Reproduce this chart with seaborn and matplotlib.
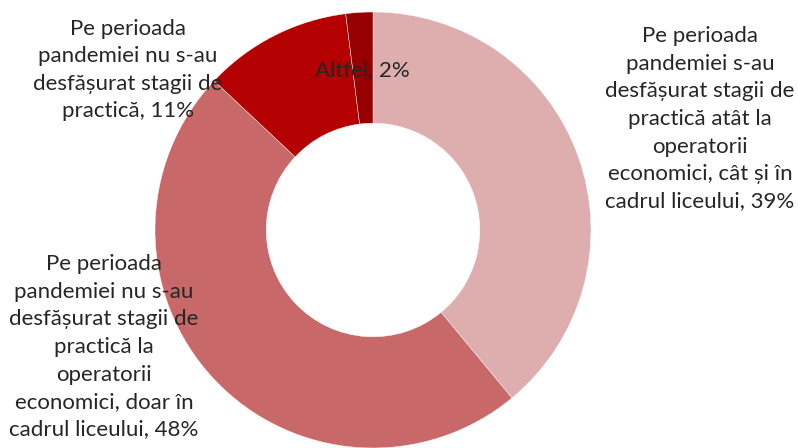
import matplotlib
matplotlib.use("Agg")
import matplotlib.pyplot as plt
import seaborn as sns

# slices, clockwise from 12 o'clock
labels = [
    "Pe perioada\npandemiei s-au\ndesfășurat stagii de\npractică atât la\noperatorii\neconomici, cât și în\ncadrul liceului, 39%",
    "Pe perioada\npandemiei nu s-au\ndesfășurat stagii de\npractică la\noperatorii\neconomici, doar în\ncadrul liceului, 48%",
    "Pe perioada\npandemiei nu s-au\ndesfășurat stagii de\npractică, 11%",
    "Altfel, 2%",
]
values = [39, 48, 11, 2]
colors = ["#DEAEAE", "#C96868", "#B40000", "#960000"]

# label centres in figure pixels (x, y from top)
label_pos = [(700, 119), (104, 347), (128, 70), (362, 70)]

sns.set_theme(style="white")
plt.rcParams["font.family"] = ["Lato", "DejaVu Sans"]

W, H = 798, 448
fig = plt.figure(figsize=(W / 100, H / 100), dpi=100)

cx, cy, r = 373, 230, 218
ax = fig.add_axes([(cx - r) / W, (H - cy - r) / H, 2 * r / W, 2 * r / H])

ax.pie(
    values,
    colors=colors,
    startangle=90,
    counterclock=False,
    radius=1,
    wedgeprops=dict(width=0.51, edgecolor="white", linewidth=0.3),
)
ax.set_xlim(-1, 1)
ax.set_ylim(-1, 1)
ax.set_aspect("equal")
ax.axis("off")

for text, (x, y) in zip(labels, label_pos):
    fig.text(
        x / W,
        1 - y / H,
        text,
        ha="center",
        va="center",
        fontsize=16,
        color="#262626",
        linespacing=1.47,
    )

plt.savefig("out.png", dpi=100)
plt.close()
